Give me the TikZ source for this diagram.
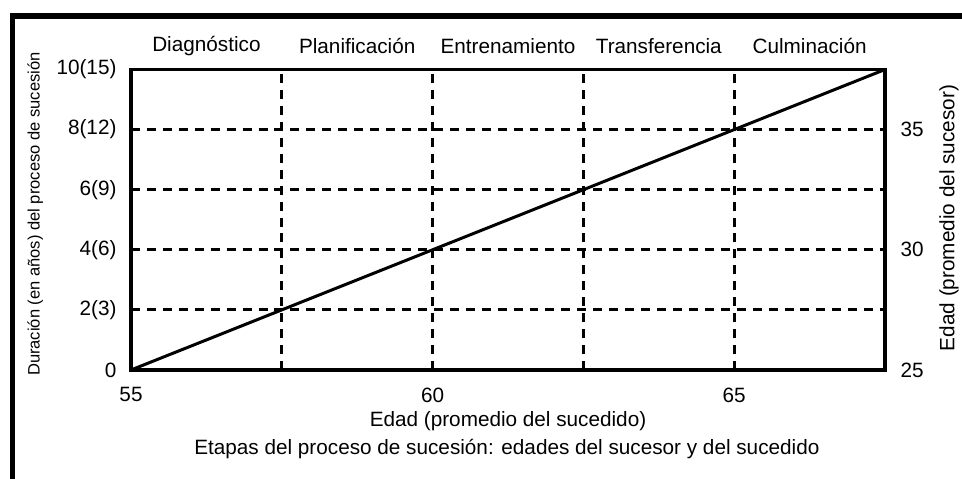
\documentclass[tikz,border=0pt]{standalone}
\usepackage{fontspec}
\setmainfont{Liberation Sans}

\tikzset{
	guia/.style={line width=1.5pt, dash pattern=on 4.5pt off 3.5pt},
	marco/.style={line width=2pt},
	texto/.style={font=\fontsize{10.4}{12}\selectfont, inner sep=0pt},
	textochico/.style={font=\fontsize{8.3}{10}\selectfont, inner sep=0pt},
}

\begin{document}
\begin{tikzpicture}
	\useasboundingbox (-2.311,-1.923) rectangle (14.658,6.526);

	% marco exterior (solo arriba e izquierda)
	\draw[line width=2.6pt] (-2.09,-2.1) -- (-2.09,6.244) -- (15,6.244);

	% lineas guia
	\draw[guia] (2.66,0) -- (2.66,5.3);
	\draw[guia] (5.32,0) -- (5.32,5.3);
	\draw[guia] (7.98,0) -- (7.98,5.3);
	\draw[guia] (10.64,0) -- (10.64,5.3);

	\draw[guia] (0,1.06) -- (13.3,1.06);
	\draw[guia] (0,2.12) -- (13.3,2.12);
	\draw[guia] (0,3.18) -- (13.3,3.18);
	\draw[guia] (0,4.24) -- (13.3,4.24);

	\draw[marco] (0,0) rectangle (13.3,5.3);
	\draw[line width=1.5pt] (0,0) -- (13.3,5.3);

	% etapas
	\node[texto] (diag) at (1.33,5.72) {Diagnóstico};
	\node[texto] (plan) at (3.99,5.72) {Planificación};
	\node[texto] (entr) at (6.65,5.72) {Entrenamiento};
	\node[texto] (tran) at (9.31,5.72) {Transferencia};
	\node[texto] (culm) at (11.97,5.72) {Culminación};

	% eje izquierdo
	\node[texto, anchor=east] (d0) at (-0.25,0) {0};
	\node[texto, anchor=east] (d2) at (-0.25,1.06) {2(3)};
	\node[texto, anchor=east] (d4) at (-0.25,2.12) {4(6)};
	\node[texto, anchor=east] (d6) at (-0.25,3.18) {6(9)};
	\node[texto, anchor=east] (d8) at (-0.25,4.24) {8(12)};
	\node[texto, anchor=east] (d10) at (-0.25,5.3) {10(15)};
	\node[textochico, rotate=90] (tituloizq) at (-1.69,2.75) {Duración (en años) del proceso de sucesión};

	% eje inferior
	\node[texto] (e55) at (0,-0.44) {55};
	\node[texto] (e60) at (5.32,-0.44) {60};
	\node[texto] (e65) at (10.64,-0.44) {65};
	\node[texto] (tituloinf) at (6.65,-0.9) {Edad (promedio del sucedido)};
	\node[texto] (pie) at (6.63,-1.4) {Etapas del proceso de sucesión: edades del sucesor y del sucedido};

	% eje derecho
	\node[texto] (s25) at (13.78,0) {25};
	\node[texto] (s30) at (13.78,2.12) {30};
	\node[texto] (s35) at (13.78,4.24) {35};
	\node[texto, rotate=90] (tituloder) at (14.43,2.68) {Edad (promedio del sucesor)};
\end{tikzpicture}
\end{document}
